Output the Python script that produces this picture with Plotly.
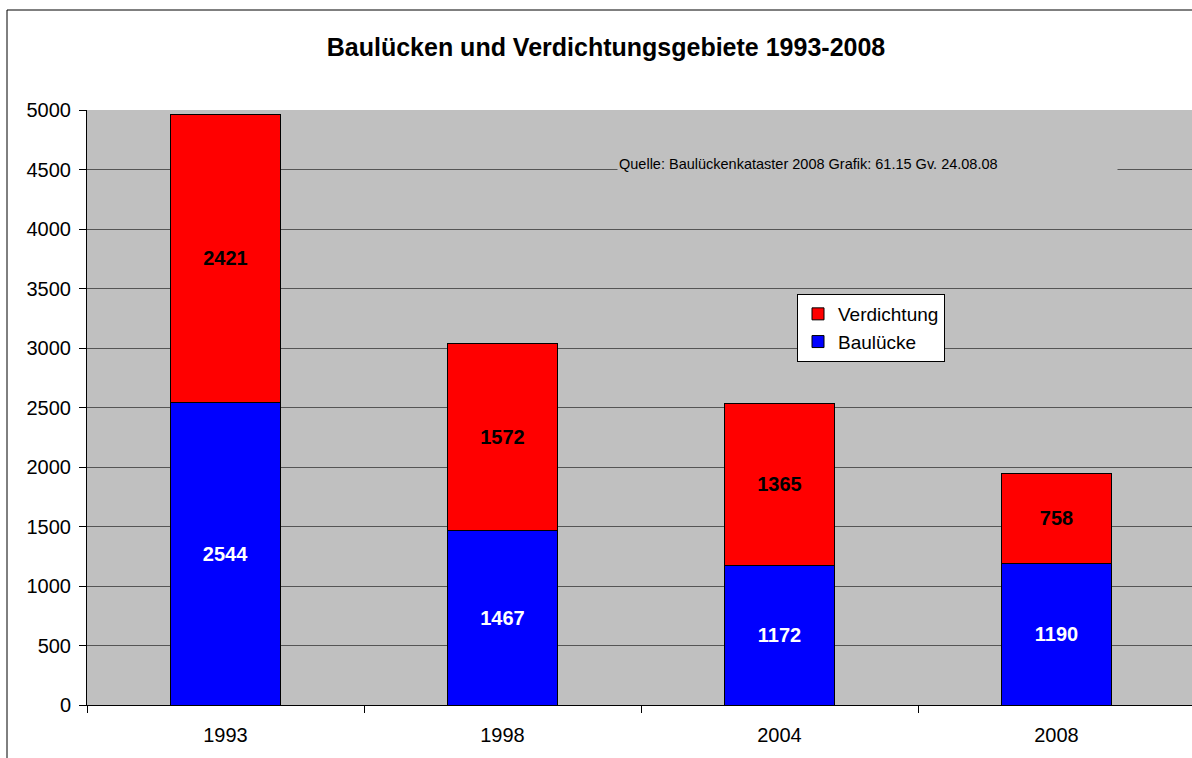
import plotly.graph_objects as go

years = ["1993", "1998", "2004", "2008"]
baulucke = [2544, 1467, 1172, 1190]
verdichtung = [2421, 1572, 1365, 758]
y_ticks = [0, 500, 1000, 1500, 2000, 2500, 3000, 3500, 4000, 4500, 5000]

W, H = 1192, 758
L, T, B = 87, 110, 53
pw = W - L
ph = H - T - B
FONT = "Liberation Sans, Arial"

fig = go.Figure()
fig.add_trace(go.Bar(
    x=years, y=baulucke, name="Baulücke",
    marker=dict(color="#0000FF", line=dict(color="#000000", width=1)),
    text=[str(v) for v in baulucke], textposition="inside", insidetextanchor="middle",
    textfont=dict(family=FONT, size=20, color="white", weight="bold"),
))
fig.add_trace(go.Bar(
    x=years, y=verdichtung, name="Verdichtung",
    marker=dict(color="#FF0000", line=dict(color="#000000", width=1)),
    text=[str(v) for v in verdichtung], textposition="inside", insidetextanchor="middle",
    textfont=dict(family=FONT, size=20, color="black", weight="bold"),
))

fig.update_layout(
    width=W, height=H,
    margin=dict(l=L, r=0, t=T, b=B, pad=0),
    barmode="stack", bargap=0.6,
    paper_bgcolor="white", plot_bgcolor="#C0C0C0",
    font=dict(family=FONT, size=20, color="black"),
    title=dict(text="<b>Baulücken und Verdichtungsgebiete 1993-2008</b>",
               x=606 / W, xanchor="center", y=1 - 47 / H, yanchor="middle",
               font=dict(size=25)),
    showlegend=True,
    legend=dict(x=(797 - L) / pw, y=(705 - 294) / ph, xanchor="left", yanchor="top",
                bgcolor="white", bordercolor="black", borderwidth=1,
                traceorder="reversed", font=dict(size=19),
                itemwidth=30, tracegroupgap=0),
    uniformtext=dict(minsize=20, mode="show"),
)
fig.update_xaxes(
    range=[-0.5, 3.5 - 3 / 277], tickson="boundaries", ticks="outside", ticklen=7,
    tickcolor="#000000", showline=True, linecolor="#000000", linewidth=1,
    showgrid=False, tickfont=dict(size=20), ticklabelstandoff=12, fixedrange=True,
)
fig.update_yaxes(
    range=[0, 5000], tickvals=y_ticks, ticks="outside", ticklen=7,
    tickcolor="#000000", showline=True, linecolor="#000000", linewidth=1,
    showgrid=True, gridcolor="#555555", gridwidth=1, zeroline=False,
    tickfont=dict(size=20), ticklabelstandoff=4,
)

# source note (box hides the gridline behind it)
fig.add_annotation(
    text="Quelle: Baulückenkataster 2008 Grafik: 61.15 Gv. 24.08.08",
    xref="paper", yref="paper",
    x=(617 - L) / pw, y=(705 - 164) / ph, xanchor="left", yanchor="middle",
    showarrow=False, align="left", width=497, height=18,
    bgcolor="#C0C0C0", font=dict(size=14.5, color="black"),
)

# outer chart border
fig.add_shape(type="rect", xref="paper", yref="paper",
              x0=(7 - L) / pw, x1=1.2, y0=-0.3, y1=(705 - 10) / ph,
              line=dict(color="black", width=1), fillcolor="rgba(0,0,0,0)", layer="above")

fig.write_html("out.html", config={"displayModeBar": False},
               post_script="document.body.style.margin='0';document.body.style.padding='0';")
